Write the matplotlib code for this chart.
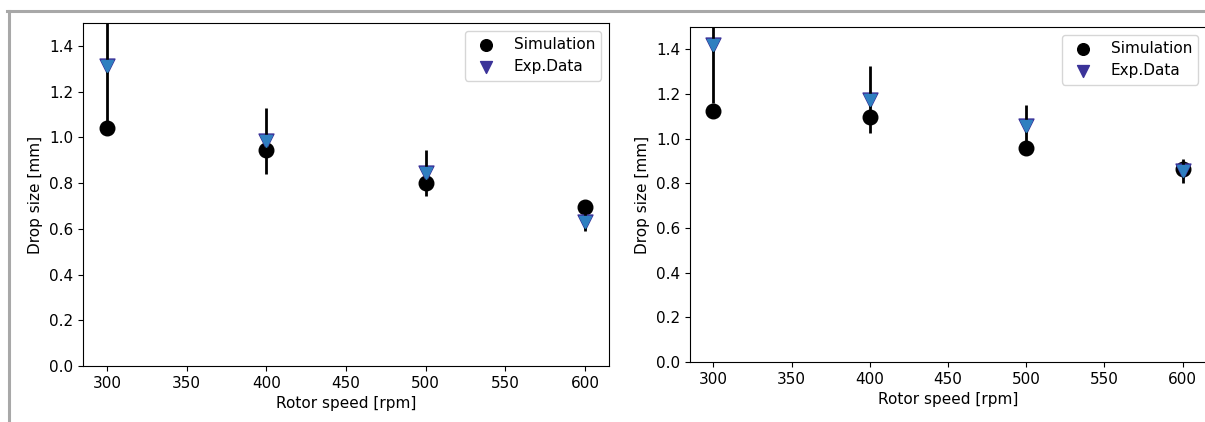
import matplotlib.pyplot as plt
from matplotlib.lines import Line2D

# rotor speeds and drop sizes
speed = [300, 400, 500, 600]

sim_left = [1.04, 0.945, 0.80, 0.695]
exp_left = [1.31, 0.985, 0.845, 0.63]
err_left = [0.27, 0.145, 0.10, 0.04]

sim_right = [1.125, 1.095, 0.96, 0.865]
exp_right = [1.42, 1.175, 1.055, 0.855]
err_right = [0.26, 0.15, 0.095, 0.055]

plt.rcParams['font.family'] = ['DejaVu Sans']
plt.rcParams['font.size'] = 11

fig = plt.figure(figsize=(12.05, 4.22), dpi=100)

# grey frame of the screenshot
fig.add_artist(Line2D([7 / 1205, 1], [1 - 11 / 422, 1 - 11 / 422],
                      color='#a8a8a8', lw=2.2, transform=fig.transFigure))
fig.add_artist(Line2D([9 / 1205, 9 / 1205], [0, 1 - 11 / 422],
                      color='#a8a8a8', lw=2.2, transform=fig.transFigure))


def panel(rect, sim, exp, err):
    ax = fig.add_axes(rect)
    ax.scatter(speed, sim, color='black', s=110, label='Simulation', zorder=3)
    ax.scatter(speed, exp, marker='v', color='#3b3399', s=115,
               label='Exp.Data', zorder=3)
    ax.errorbar(speed, exp, yerr=err, fmt='v', color='#2f7fc0', ms=8,
                ecolor='black', elinewidth=2, zorder=4)
    ax.set_ylim(0, 1.5)
    ax.set_xlabel('Rotor speed [rpm]')
    ax.set_ylabel('Drop size [mm]')
    ax.legend(loc='upper right', markerscale=0.8)
    return ax


panel([83 / 1205, 1 - 366 / 422, 526 / 1205, 343 / 422],
      sim_left, exp_left, err_left)
panel([690 / 1205, 1 - 362 / 422, 516 / 1205, 335 / 422],
      sim_right, exp_right, err_right)

fig.savefig('out.png', dpi=100)
